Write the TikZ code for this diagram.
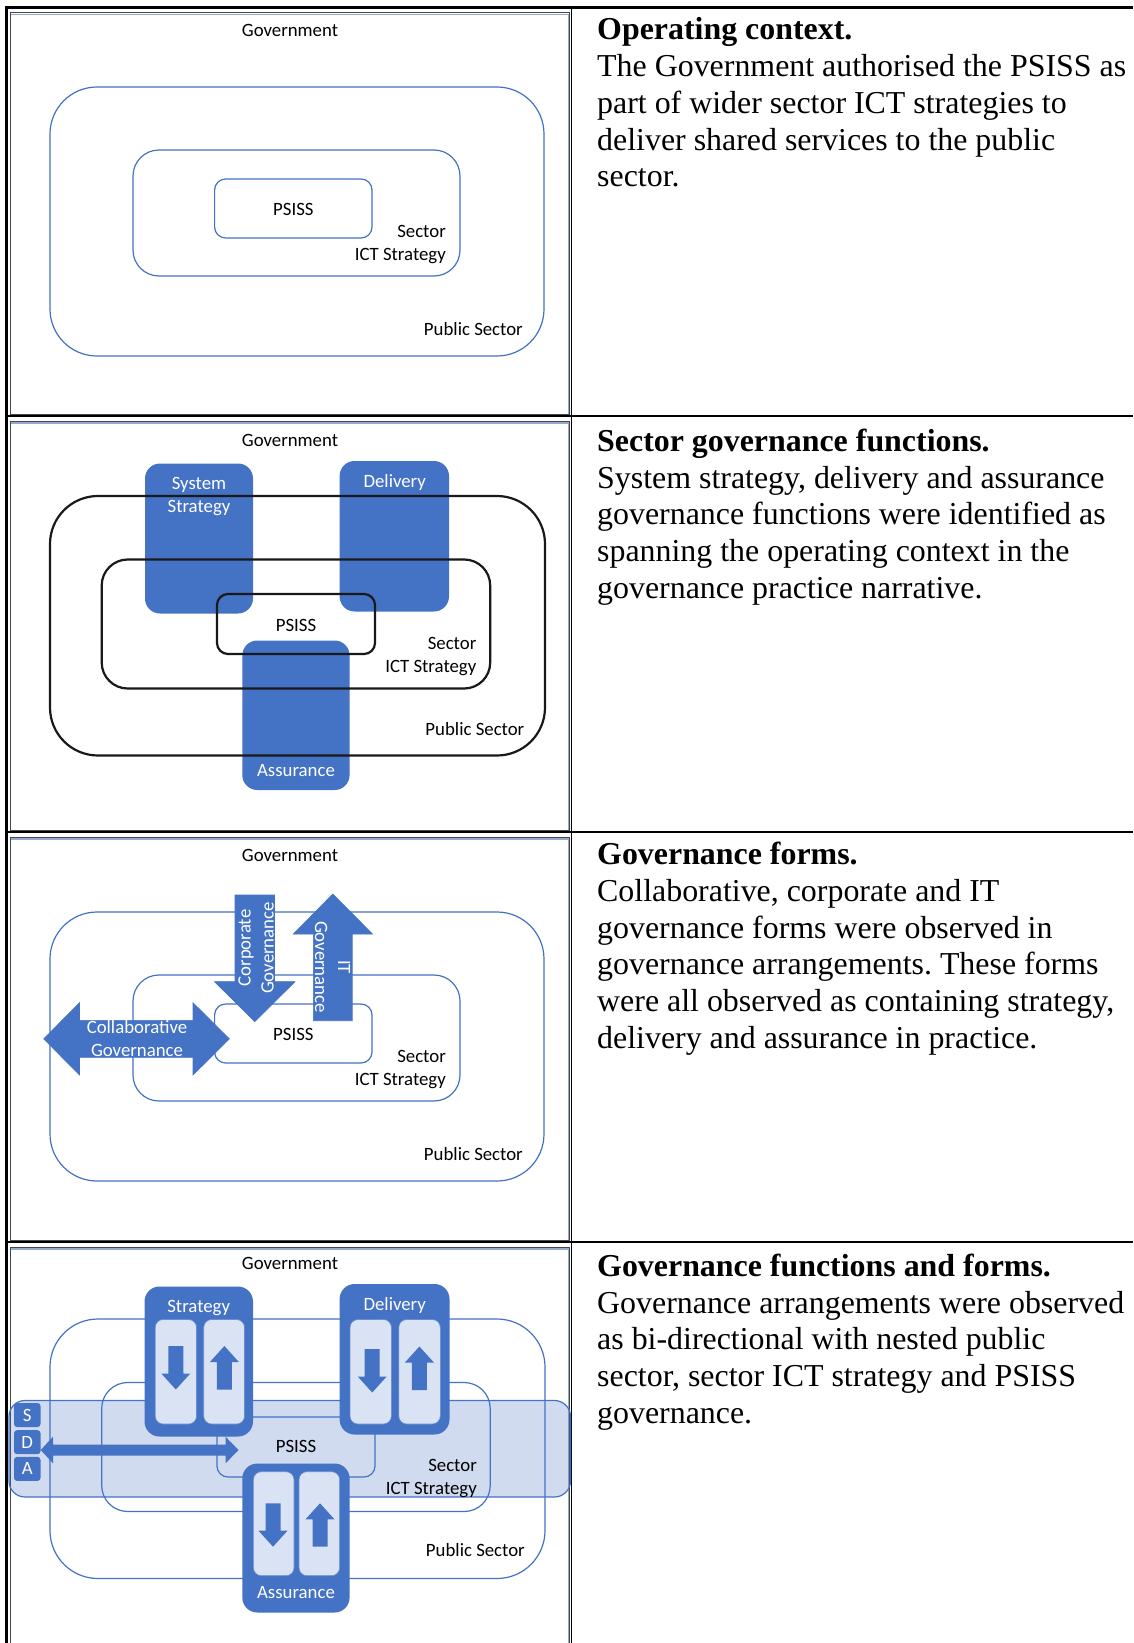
\documentclass[tikz,border=0pt]{standalone}
\usepackage{fontspec}
\setmainfont{Liberation Serif}
\newfontfamily\labfont{Carlito}
\frenchspacing
\definecolor{offblue}{RGB}{68,114,196}
\definecolor{paleblue}{RGB}{218,227,243}
\definecolor{framegray}{RGB}{70,70,70}
\definecolor{frameblue}{RGB}{150,170,205}

% block arrows: {centre x}{top}{tip} / {centre x}{tip}{bottom}
\newcommand{\downblock}[3]{\fill[offblue] (#1-7.5,#2) -- (#1+7.5,#2) -- (#1+7.5,#3-16) -- (#1+14.5,#3-16) -- (#1,#3) -- (#1-14.5,#3-16) -- (#1-7.5,#3-16) -- cycle;}
\newcommand{\upblock}[3]{\fill[offblue] (#1-7.5,#3) -- (#1+7.5,#3) -- (#1+7.5,#2+16) -- (#1+14.5,#2+16) -- (#1,#2) -- (#1-14.5,#2+16) -- (#1-7.5,#2+16) -- cycle;}

% nested context: public sector, sector ICT strategy, PSISS
\newcommand{\contextpanel}{%
  \node[lbl] (gov) at (290,30.5) {Government};
  \draw[thinline, rounded corners=47pt] (50,87) rectangle (544,356);
  \draw[thinline, rounded corners=26pt] (133,150) rectangle (460,276);
  \draw[thinline, rounded corners=11pt] (214.6,179) rectangle (372,238);
  \node[lbl] (psiss) at (293.4,209) {PSISS};
  \node[lbl, align=right, anchor=east] (ict) at (446,244.5) {Sector\\ICT Strategy};
  \node[lbl, anchor=east] (pub) at (523,329) {Public Sector};
}

\begin{document}
\begin{tikzpicture}[x=1pt,y=-1pt,
  lbl/.style={font=\labfont\fontsize{18.8}{23}\selectfont, inner sep=0pt, text=black},
  wlbl/.style={lbl, text=white},
  body/.style={font=\fontsize{31.9}{36.7}\selectfont, anchor=base west, inner sep=0pt},
  head/.style={body, font=\fontsize{31.9}{36.7}\selectfont\bfseries},
  thinline/.style={draw=offblue, line width=1.2pt},
  blackline/.style={draw=black!90, line width=2.2pt},
  innerbox/.style={fill=paleblue, draw=offblue!80, line width=0.6pt, rounded corners=8pt},
  sdabox/.style={lbl, text=white, fill=offblue, rounded corners=3pt, minimum width=26.5pt, minimum height=24pt},
  tableline/.style={draw=black, line width=2.2pt},
]
\fill[white] (0,0) rectangle (1133,1643);
\useasboundingbox (0,0) rectangle (1133,1643);

% ---------- table rules and picture frames ----------
\foreach \top/\bot in {7.5/416, 416/832, 832/1242, 1242/1650}{
  \draw[framegray, line width=1pt] (10.3,\top+5) rectangle (569.8,\bot-1.5);
  \draw[frameblue, line width=1.4pt] (11,\top+7) -- (568.6,\top+7) -- (568.6,\bot-2.5);
}
\draw[tableline] (5,7.5) -- (1133,7.5);
\draw[tableline] (6.5,6.4) -- (6.5,1643);
\draw[tableline] (5,416) -- (1133,416);
\draw[tableline] (5,832) -- (1133,832);
\draw[tableline] (5,1242) -- (1133,1242);
\draw[black, line width=1.6pt] (571.5,7.5) -- (571.5,1643);

% ---------- row 1: operating context ----------
\begin{scope}[name prefix=oc-]
  \contextpanel
\end{scope}

% ---------- row 2: sector governance functions ----------
\begin{scope}[name prefix=fn-]
  \fill[offblue, rounded corners=15pt] (145,463.5) rectangle (253,613.5);
  \fill[offblue, rounded corners=15pt] (339.6,461) rectangle (449,611.5);
  \fill[offblue, rounded corners=15pt] (242.3,640.5) rectangle (349.6,790);
  \node[wlbl, align=center] (strat) at (199,497) {System\\Strategy};
  \node[wlbl] (deliv) at (394.7,482.7) {Delivery};
  \node[wlbl] (assur) at (296,771) {Assurance};
  \draw[blackline, rounded corners=48pt] (50,496) rectangle (545,755.5);
  \draw[blackline, rounded corners=26pt] (101.7,559.5) rectangle (490.2,688.5);
  \draw[blackline, rounded corners=11pt] (217,594) rectangle (375,654);
  \node[lbl] (gov) at (290,440) {Government};
  \node[lbl] (psiss) at (296,625) {PSISS};
  \node[lbl, align=right, anchor=east] (ict) at (476.5,656.5) {Sector\\ICT Strategy};
  \node[lbl, anchor=east] (pub) at (524.5,729.5) {Public Sector};
\end{scope}

% ---------- row 3: governance forms ----------
\begin{scope}[shift={(0,825)}, name prefix=gf-]
  \contextpanel
  % corporate governance (down)
  \filldraw[offblue, line width=0.6pt] (235,70) -- (274.5,70) -- (274.5,156.7) -- (294.9,156.7)
    -- (254.75,196.7) -- (214.6,156.7) -- (235,156.7) -- cycle;
  % IT governance (up)
  \filldraw[offblue, line width=0.6pt] (313.4,195.7) -- (352.2,195.7) -- (352.2,109) -- (372.5,109)
    -- (332.8,69) -- (293.4,109) -- (313.4,109) -- cycle;
  % collaborative governance (both ways)
  \filldraw[offblue, line width=0.6pt] (43.7,213.85) -- (79.5,177.7) -- (79.5,195.4) -- (193,195.4)
    -- (193,177.7) -- (229.4,213.85) -- (193,250) -- (193,232.3) -- (79.5,232.3) -- (79.5,250) -- cycle;
  \node[wlbl, align=center, rotate=90] (corp) at (256,123) {Corporate\\Governance};
  \node[wlbl, align=center, rotate=-90] (itg) at (332.5,142) {IT\\Governance};
  \node[wlbl, align=center] (collab) at (137,214) {Collaborative\\Governance};
\end{scope}

% ---------- row 4: governance functions and forms ----------
\begin{scope}[shift={(0,823)}, name prefix=ff-]
  \fill[offblue, fill opacity=0.25, rounded corners=16pt] (9,577.5) rectangle (570.5,674);
  \draw[thinline, rounded corners=48pt] (50,496) rectangle (545,755.5);
  \draw[thinline, rounded corners=26pt] (101.7,559.5) rectangle (490.2,688.5);
  \draw[thinline, rounded corners=11pt] (217,594) rectangle (375,654);
  \draw[thinline, rounded corners=16pt] (9,577.5) rectangle (570.5,674);
  \node[lbl] (gov) at (290,440) {Government};
  \node[lbl] (psiss) at (296,623.7) {PSISS};
  \node[lbl, align=right, anchor=east] (ict) at (477,655) {Sector\\ICT Strategy};
  \node[lbl, anchor=east] (pub) at (525,727) {Public Sector};
  % function boxes
  \fill[offblue, rounded corners=15pt] (144.5,463.5) rectangle (253,613.5);
  \fill[offblue, rounded corners=15pt] (339.6,461) rectangle (449.5,611.5);
  \fill[offblue, rounded corners=15pt] (242.3,640.5) rectangle (349.6,789.5);
  \path[innerbox] (155.2,496.5) rectangle (196.5,601);
  \path[innerbox] (203.7,496.5) rectangle (244.5,601);
  \path[innerbox] (350,496.5) rectangle (391.4,601);
  \path[innerbox] (398.8,496.5) rectangle (440.3,601);
  \path[innerbox] (253.4,648.7) rectangle (294,752.7);
  \path[innerbox] (299,648.7) rectangle (339.6,752.7);
  \downblock{175.8}{523}{566.5}
  \upblock{224.4}{523}{566.5}
  \downblock{372.2}{526}{569.5}
  \upblock{419.4}{523.5}{567}
  \downblock{273}{680.3}{723.7}
  \upblock{320}{680.3}{723.7}
  \node[wlbl] (strat) at (198.7,485.3) {Strategy};
  \node[wlbl] (deliv) at (394.7,482.7) {Delivery};
  \node[wlbl] (assur) at (296,769.3) {Assurance};
  % strategy / delivery / assurance keys
  \node[sdabox] (s) at (27.25,592) {S};
  \node[sdabox] (d) at (27.25,619.2) {D};
  \node[sdabox] (a) at (27.25,645.9) {A};
  \fill[offblue] (d.east |- 0,627) -- (53,613.7) -- (53,621.5) -- (225.5,621.5) -- (225.5,613.7)
    -- (238.6,627) -- (225.5,640.3) -- (225.5,632.5) -- (53,632.5) -- (53,640.3) -- cycle;
\end{scope}

% ---------- right-hand column ----------
\node[head] (h1) at (597,40) {Operating context.};
\node[body] (h1a) at (597,76.7) {The Government authorised the PSISS as};
\node[body] (h1b) at (597,113.4) {part of wider sector ICT strategies to};
\node[body] (h1c) at (597,150.1) {deliver shared services to the public};
\node[body] (h1d) at (597,186.8) {sector.};

\node[head] (h2) at (597,451.5) {Sector governance functions.};
\node[body] (h2a) at (597,488.2) {System strategy, delivery and assurance};
\node[body] (h2b) at (597,524.9) {governance functions were identified as};
\node[body] (h2c) at (597,561.6) {spanning the operating context in the};
\node[body] (h2d) at (597,598.3) {governance practice narrative.};

\node[head] (h3) at (597,864.8) {Governance forms.};
\node[body] (h3a) at (597,901.5) {Collaborative, corporate and IT};
\node[body] (h3b) at (597,938.2) {governance forms were observed in};
\node[body] (h3c) at (597,974.9) {governance arrangements. These forms};
\node[body] (h3d) at (597,1011.6) {were all observed as containing strategy,};
\node[body] (h3e) at (597,1048.3) {delivery and assurance in practice.};

\node[head] (h4) at (597,1276.5) {Governance functions and forms.};
\node[body] (h4a) at (597,1313.2) {Governance arrangements were observed};
\node[body] (h4b) at (597,1349.9) {as bi-directional with nested public};
\node[body] (h4c) at (597,1386.6) {sector, sector ICT strategy and PSISS};
\node[body] (h4d) at (597,1423.3) {governance.};
\end{tikzpicture}
\end{document}
